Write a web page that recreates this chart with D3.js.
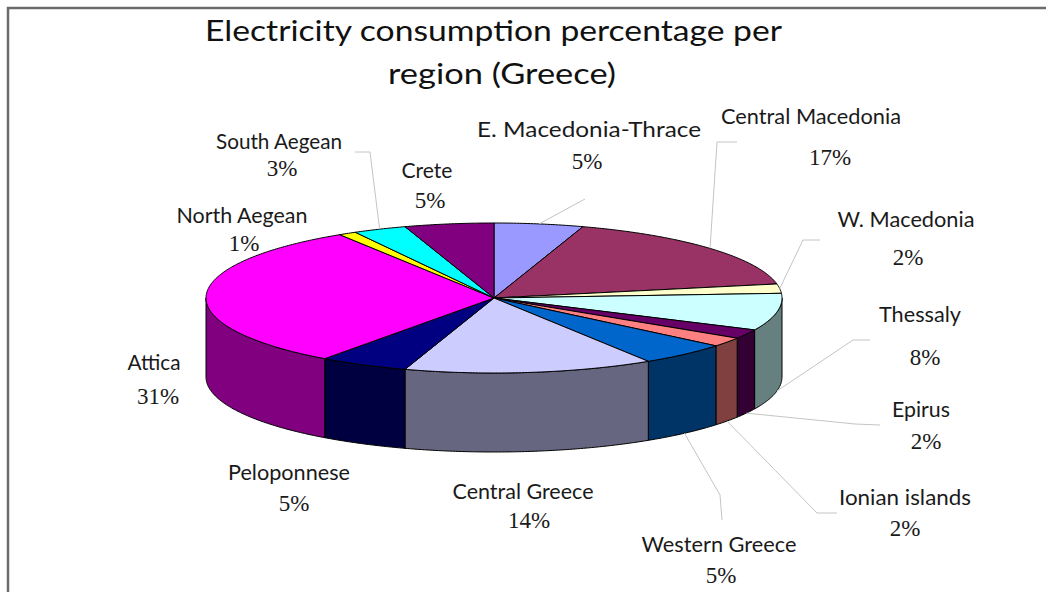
<!DOCTYPE html>
<html>
<head>
<meta charset="utf-8">
<script src="https://cdn.jsdelivr.net/npm/d3@7"></script>
<style>
  body { margin: 0; background: #fff; }
  svg { display: block; }
</style>
</head>
<body>
<svg id="chart" width="1046" height="592"></svg>
<script>
// Regional shares of electricity consumption, clockwise from 12 o'clock
const regions = ["E. Macedonia-Thrace", "Central Macedonia", "W. Macedonia", "Thessaly",
  "Epirus", "Ionian islands", "Western Greece", "Central Greece", "Peloponnese",
  "Attica", "North Aegean", "South Aegean", "Crete"];
const shares = [5, 17, 2, 8, 2, 2, 5, 14, 5, 31, 1, 3, 5];
const sliceColors = ["#9999ff", "#993366", "#ffffcc", "#ccffff", "#660066", "#ff8080",
  "#0066cc", "#ccccff", "#000080", "#ff00ff", "#ffff00", "#00ffff", "#800080"];
const titleLines = ["Electricity consumption percentage per", "region (Greece)"];

// Label placement: name/percent centres, fitted text width, leader start + elbow
const labelLayout = {
  "E. Macedonia-Thrace": { name: [589, 130], pct: [587, 161], w: 224, leader: [[585, 199], [585, 199]] },
  "Central Macedonia":   { name: [811, 117], pct: [830, 157], w: 180, leader: [[737, 142], [717, 142]] },
  "W. Macedonia":        { name: [906, 220], pct: [908, 257], w: 137, leader: [[820, 240], [803, 240]] },
  "Thessaly":            { name: [920, 315], pct: [925, 357], w: 82,  leader: [[870, 340], [853, 340]] },
  "Epirus":              { name: [921, 410], pct: [926, 441], w: 58,  leader: [[880, 425], [855, 424]] },
  "Ionian islands":      { name: [905, 498], pct: [905, 528], w: 132, leader: [[837, 513], [817, 513]] },
  "Western Greece":      { name: [719, 545], pct: [721, 575], w: 155, leader: [[722, 520], [720, 495]] },
  "Central Greece":      { name: [523, 492], pct: [529, 520], w: 141, leader: null },
  "Peloponnese":         { name: [289, 473], pct: [294, 503], w: 122, leader: null },
  "Attica":              { name: [154, 363], pct: [158, 396], w: 53,  leader: null },
  "North Aegean":        { name: [242, 216], pct: [244, 243], w: 131, leader: null },
  "South Aegean":        { name: [279, 142], pct: [282, 168], w: 126, leader: [[355, 152], [370, 152]] },
  "Crete":               { name: [427, 171], pct: [430, 200], w: 51,  leader: null }
};

const svg = d3.select("#chart");

// Frame (left and top rule)
svg.append("path")
  .attr("d", "M8,592V8H1046")
  .attr("fill", "none")
  .attr("stroke", "#6b6b6b")
  .attr("stroke-width", 2.5);

// Title
svg.append("g").selectAll("text")
  .data(titleLines)
  .join("text")
  .attr("x", (d, i) => i === 0 ? 493.5 : 502)
  .attr("y", (d, i) => i === 0 ? 41 : 84)
  .attr("text-anchor", "middle")
  .attr("font-family", "Lato, 'Open Sans', sans-serif")
  .attr("font-size", 28)
  .attr("fill", "#111")
  .attr("textLength", (d, i) => i === 0 ? 577 : 228)
  .attr("lengthAdjust", "spacingAndGlyphs")
  .text(d => d);

// 3-D pie geometry
const cx = 494, cy = 298, rx = 288, ry = 75, depth = 79;
const px = a => cx + rx * Math.sin(a);
const py = a => cy - ry * Math.cos(a);

const arcs = d3.pie().sort(null).value(d => d)(shares)
  .map((a, i) => ({ ...a, name: regions[i] }));
const color = d3.scaleOrdinal().domain(regions).range(sliceColors);
const sideColor = name => {
  const c = d3.rgb(color(name));
  return d3.rgb(c.r * 0.5, c.g * 0.5, c.b * 0.5).formatHex();
};

function rim(a0, a1, dy = 0) {
  const n = Math.max(2, Math.ceil((a1 - a0) / 0.01));
  return d3.range(n + 1).map(i => {
    const a = a0 + (a1 - a0) * i / n;
    return [px(a), py(a) + dy];
  });
}
const line = d3.line();

// Outer walls: only the front half (pi/2 .. 3pi/2) is visible
const walls = arcs
  .map(d => ({ ...d, lo: Math.max(d.startAngle, Math.PI / 2), hi: Math.min(d.endAngle, 3 * Math.PI / 2) }))
  .filter(d => d.lo < d.hi);

svg.append("g").selectAll("path")
  .data(walls)
  .join("path")
  .attr("d", d => line([...rim(d.lo, d.hi), ...rim(d.lo, d.hi, depth).reverse()]) + "Z")
  .attr("fill", d => sideColor(d.name))
  .attr("stroke", "#000")
  .attr("stroke-width", 1)
  .attr("stroke-linejoin", "round");

// Top faces
svg.append("g").selectAll("path")
  .data(arcs)
  .join("path")
  .attr("d", d => line([[cx, cy], ...rim(d.startAngle, d.endAngle)]) + "Z")
  .attr("fill", d => color(d.name))
  .attr("stroke", "#000")
  .attr("stroke-width", 1)
  .attr("stroke-linejoin", "round");

// Leader lines from label to the slice's mid-angle on the rim
const anchor = d => {
  const m = (d.startAngle + d.endAngle) / 2;
  const front = Math.cos(m) < 0;
  return [px(m), py(m) + (front ? depth : 0)];
};
svg.append("g").selectAll("path")
  .data(arcs.filter(d => labelLayout[d.name].leader))
  .join("path")
  .attr("d", d => line([...labelLayout[d.name].leader, anchor(d)]))
  .attr("fill", "none")
  .attr("stroke", "#c4c4c4")
  .attr("stroke-width", 1);

// Labels: region name and share
const labels = svg.append("g").selectAll("g")
  .data(arcs)
  .join("g");

labels.append("text")
  .attr("x", d => labelLayout[d.name].name[0])
  .attr("y", d => labelLayout[d.name].name[1] + 7)
  .attr("text-anchor", "middle")
  .attr("font-family", "Lato, 'Open Sans', sans-serif")
  .attr("font-size", 21)
  .attr("fill", "#1a1a1a")
  .attr("textLength", d => labelLayout[d.name].w)
  .attr("lengthAdjust", "spacingAndGlyphs")
  .text(d => d.name);

labels.append("text")
  .attr("x", d => labelLayout[d.name].pct[0])
  .attr("y", d => labelLayout[d.name].pct[1] + 8)
  .attr("text-anchor", "middle")
  .attr("font-family", "'Liberation Serif', 'Times New Roman', serif")
  .attr("font-size", 23)
  .attr("fill", "#1a1a1a")
  .text(d => d3.format(".0f")(d.data) + "%");
</script>
</body>
</html>
